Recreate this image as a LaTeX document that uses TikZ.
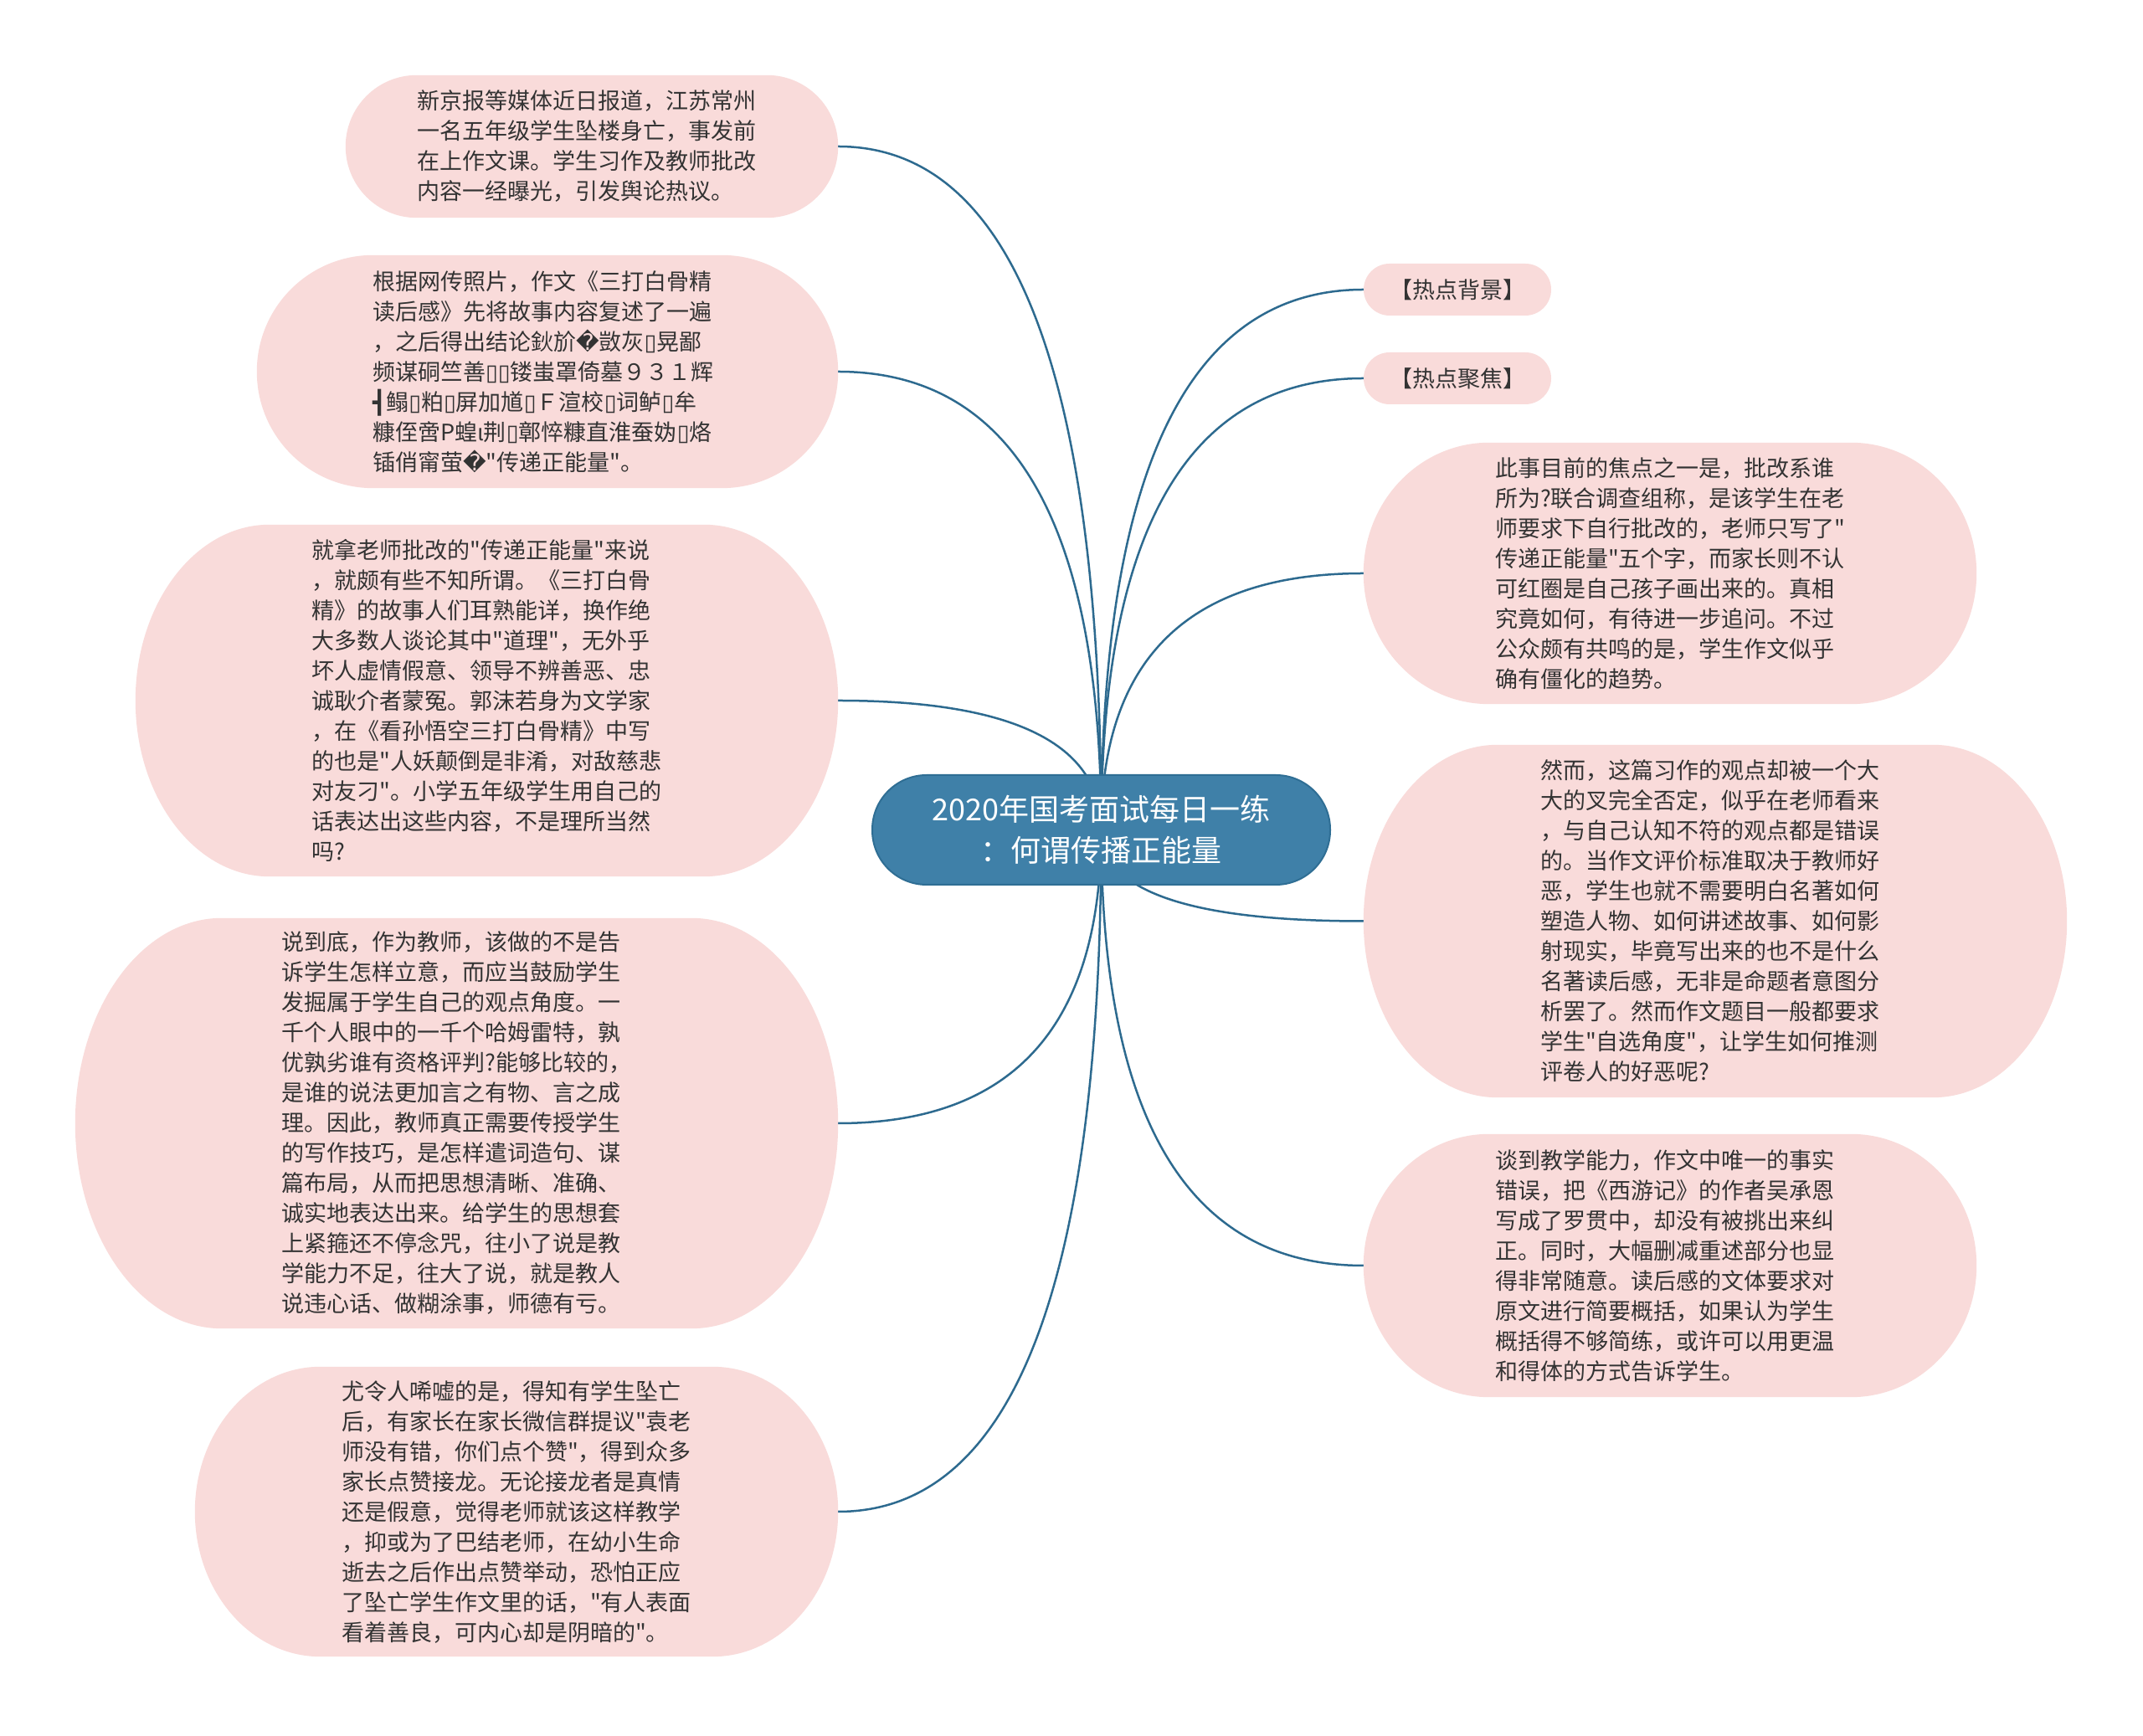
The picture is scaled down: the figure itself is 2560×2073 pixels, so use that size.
\documentclass[tikz,border=0pt]{standalone}
\usepackage{fontspec}
\setmainfont{Noto Sans CJK SC}[Ligatures=TeXOff]
\newfontfamily\dvs{DejaVu Sans}[Ligatures=TeXOff]
\usetikzlibrary{backgrounds,calc}
\definecolor{leaf}{HTML}{F9DBDA}
\definecolor{hub}{HTML}{3F80A8}
\definecolor{hubline}{HTML}{2F6E94}
\definecolor{link}{HTML}{2D6A8F}
\definecolor{ink}{HTML}{333333}
\newcommand\tofu{{\dvs ▯}}
\newcommand\blob[2]{%
  \fill[leaf] let \p1=(#1.north west), \p2=(#1.south east), \n1={(\y1-\y2)/2}, \n2={#2*1pt} in
    (\x1+\n2,\y1) -- (\x2-\n2,\y1)
    arc[start angle=90,end angle=-90,x radius=\n2,y radius=\n1]
    -- (\x1+\n2,\y2)
    arc[start angle=270,end angle=90,x radius=\n2,y radius=\n1] -- cycle;}
\begin{document}
\begin{tikzpicture}[x=1pt,y=1pt,
  leafnode/.style={inner sep=0pt, text width=418pt, align=left, text=ink, font=\fontsize{27}{36}\selectfont},
  tagnode/.style={inner sep=0pt, text=ink, font=\fontsize{27}{36}\selectfont, fill=leaf, rounded corners=31pt, minimum width=224pt, minimum height=62pt},
  hubnode/.style={fill=hub, draw=hubline, line width=2pt, rounded corners=65pt, text=white, align=center, font=\fontsize{36}{49}\selectfont, minimum width=547pt, minimum height=131pt, inner sep=0pt},
  conn/.style={draw=link, line width=2.5pt}]
\useasboundingbox (0,0) rectangle (2560,2073);

\node[hubnode] (c) at (1315.5,1081.5) {2020年国考面试每日一练\\：何谓传播正能量};

\node[leafnode, minimum width=588pt, minimum height=170pt] (n1) at (707,1898) {新京报等媒体近日报道，江苏常州\\一名五年级学生坠楼身亡，事发前\\在上作文课。学生习作及教师批改\\内容一经曝光，引发舆论热议。};

\node[leafnode, minimum width=694pt, minimum height=278pt] (n2) at (654,1629) {根据网传照片，作文《三打白骨精\\读后感》先将故事内容复述了一遍\\，之后得出结论鈥斺{\dvs �}敳灰\tofu 晃鄙\\频谋硐竺善\tofu\tofu 镂蚩罩倚墓９３１辉\\{\dvs ┫}鳎\tofu 粕\tofu 屏加馗\tofu Ｆ渲校\tofu 词鲈\tofu 牟\\糠侄啻P蝗ι荆\tofu 鄣悴糠直淮蚕妫\tofu 烙\\锸俏甯萤{\dvs �}"传递正能量"。};

\node[leafnode, minimum width=839pt, minimum height=420pt] (n3) at (581.5,1236) {就拿老师批改的"传递正能量"来说\\，就颇有些不知所谓。《三打白骨\\精》的故事人们耳熟能详，换作绝\\大多数人谈论其中"道理"，无外乎\\坏人虚情假意、领导不辨善恶、忠\\诚耿介者蒙冤。郭沫若身为文学家\\，在《看孙悟空三打白骨精》中写\\的也是"人妖颠倒是非淆，对敌慈悲\\对友刁"。小学五年级学生用自己的\\话表达出这些内容，不是理所当然\\吗?};

\node[leafnode, minimum width=911pt, minimum height=490pt] (n4) at (545.5,731) {说到底，作为教师，该做的不是告\\诉学生怎样立意，而应当鼓励学生\\发掘属于学生自己的观点角度。一\\千个人眼中的一千个哈姆雷特，孰\\优孰劣谁有资格评判?能够比较的，\\是谁的说法更加言之有物、言之成\\理。因此，教师真正需要传授学生\\的写作技巧，是怎样遣词造句、谋\\篇布局，从而把思想清晰、准确、\\诚实地表达出来。给学生的思想套\\上紧箍还不停念咒，往小了说是教\\学能力不足，往大了说，就是教人\\说违心话、做糊涂事，师德有亏。};

\node[leafnode, minimum width=768pt, minimum height=346pt] (n5) at (617,267) {尤令人唏嘘的是，得知有学生坠亡\\后，有家长在家长微信群提议"袁老\\师没有错，你们点个赞"，得到众多\\家长点赞接龙。无论接龙者是真情\\还是假意，觉得老师就该这样教学\\，抑或为了巴结老师，在幼小生命\\逝去之后作出点赞举动，恐怕正应\\了坠亡学生作文里的话，"有人表面\\看着善良，可内心却是阴暗的"。};

\node[tagnode] (n6) at (1741,1727) {【热点背景】};
\node[tagnode] (n7) at (1741,1621) {【热点聚焦】};

\node[leafnode, minimum width=732pt, minimum height=312pt] (n8) at (1995,1388) {此事目前的焦点之一是，批改系谁\\所为?联合调查组称，是该学生在老\\师要求下自行批改的，老师只写了"\\传递正能量"五个字，而家长则不认\\可红圈是自己孩子画出来的。真相\\究竟如何，有待进一步追问。不过\\公众颇有共鸣的是，学生作文似乎\\确有僵化的趋势。};

\node[leafnode, minimum width=840pt, minimum height=421pt] (n9) at (2049,972.5) {然而，这篇习作的观点却被一个大\\大的叉完全否定，似乎在老师看来\\，与自己认知不符的观点都是错误\\的。当作文评价标准取决于教师好\\恶，学生也就不需要明白名著如何\\塑造人物、如何讲述故事、如何影\\射现实，毕竟写出来的也不是什么\\名著读后感，无非是命题者意图分\\析罢了。然而作文题目一般都要求\\学生"自选角度"，让学生如何推测\\评卷人的好恶呢?};

\node[leafnode, minimum width=732pt, minimum height=314pt] (n10) at (1995,561) {谈到教学能力，作文中唯一的事实\\错误，把《西游记》的作者吴承恩\\写成了罗贯中，却没有被挑出来纠\\正。同时，大幅删减重述部分也显\\得非常随意。读后感的文体要求对\\原文进行简要概括，如果认为学生\\概括得不够简练，或许可以用更温\\和得体的方式告诉学生。};

\begin{scope}[on background layer]
  \fill[white] (0,0) rectangle (2560,2073);
  \foreach \t/\a in {n1/east,n2/east,n3/east,n4/east,n5/east,n6/west,n7/west,n8/west,n9/west,n10/west}{
    \coordinate (k) at (c.center |- \t.\a);
    \draw[conn] (c.center) .. controls ($(c.center)!0.6667!(k)$) and ($(\t.\a)!0.6667!(k)$) .. (\t.\a);
  }
  \blob{n1}{85}
  \blob{n2}{139}
  \blob{n3}{160}
  \blob{n4}{175}
  \blob{n5}{150}
  \blob{n8}{150}
  \blob{n9}{160}
  \blob{n10}{150}
\end{scope}
\end{tikzpicture}
\end{document}
